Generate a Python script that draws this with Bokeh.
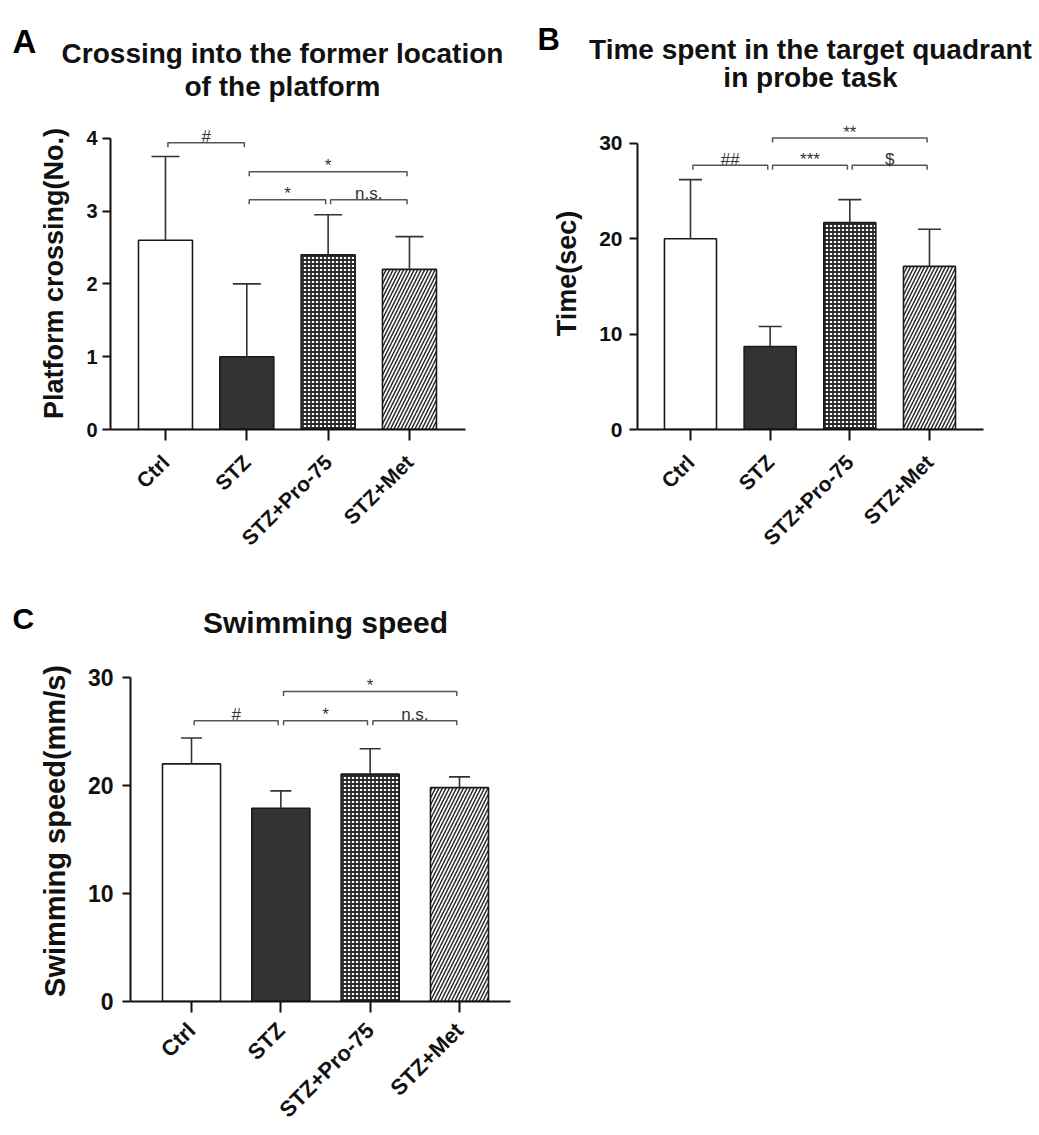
import numpy as np
from bokeh.plotting import figure
from bokeh.models import ColumnDataSource, Range1d, FixedTicker, Whisker, TeeHead, Label
from bokeh.layouts import column, row
from bokeh.embed import file_html
from bokeh.resources import INLINE
from bokeh.core.properties import value

# ---------------- data ----------------
categories = ["Ctrl", "STZ", "STZ+Pro-75", "STZ+Met"]

crossing_mean = [2.6, 1.0, 2.4, 2.2]
crossing_sd = [1.15, 1.0, 0.55, 0.45]

time_mean = [20.0, 8.7, 21.7, 17.1]
time_sd = [6.2, 2.1, 2.4, 3.9]

speed_mean = [22.0, 17.9, 21.05, 19.8]
speed_sd = [2.4, 1.6, 2.35, 1.0]

# significance brackets: (group i, group j, label, height)
brackets_A = [(0, 1, "#", 3.94), (1, 2, "*", 3.155), (2, 3, "n.s.", 3.155), (1, 3, "*", 3.54)]
brackets_B = [(0, 1, "##", 27.7), (1, 2, "***", 27.7), (2, 3, "$", 27.7), (1, 3, "**", 30.55)]
brackets_C = [(0, 1, "#", 26.0), (1, 2, "*", 26.0), (2, 3, "n.s.", 26.0), (1, 3, "*", 28.7)]

titles_A = ["Crossing into the former location", "of the platform"]
titles_B = ["Time spent in the target quadrant", "in probe task"]
titles_C = ["Swimming speed"]
letters = ["A", "B", "C"]

ylabels = ["Platform crossing(No.)", "Time(sec)", "Swimming speed(mm/s)"]

# ---------------- styles ----------------
FONT = "Liberation Sans"
fills = ["white", "#333333", "white", "white"]
hatches = ["blank", "blank", "cross", "right_diagonal_line"]
hatch_scales = [4, 4, 4, 7]
hatch_weights = [1.0, 1.0, 1.8, 1.5]


def title_strip(width, height, lines, cx, bases, size, letter, lxy, lsize):
    """A figure without axes whose frame is the whole canvas; y measured from the top."""
    t = figure(width=width, height=height, output_backend="svg", toolbar_location=None,
               title=None, x_range=Range1d(0, width), y_range=Range1d(height, 0),
               x_axis_location=None, y_axis_location=None, min_border=0)
    t.outline_line_color = None
    t.grid.visible = False
    for k, line in enumerate(lines):
        t.add_layout(Label(x=cx, y=bases[k], text=line, text_align="center",
                           text_baseline="alphabetic", text_font=FONT, text_font_style="bold",
                           text_font_size=f"{size}px", text_color="#111111"))
    t.add_layout(Label(x=lxy[0], y=lxy[1], text=letter, text_align="left",
                       text_baseline="alphabetic", text_font=FONT, text_font_style="bold",
                       text_font_size=f"{lsize}px", text_color="#000000"))
    return t


def make_panel(width, height, fl, fr, ft, fb, xstart, xend, ymax, ytop_bound, yticks,
               means, sds, brackets, ylabel, ylab_size, tick_size, tick_standoff,
               cat_size, cat_standoff, bar_w, cap_w):
    p = figure(width=width, height=height, output_backend="svg", toolbar_location=None,
               title=None, x_range=Range1d(xstart, xend), y_range=Range1d(0, ymax),
               min_border_left=fl, min_border_right=width - fr,
               min_border_top=ft, min_border_bottom=height - fb)
    p.outline_line_color = None
    p.grid.visible = False
    p.background_fill_color = "white"
    p.border_fill_color = "white"

    x = list(range(len(categories)))
    src = ColumnDataSource(dict(
        x=x, top=means, upper=[m + s for m, s in zip(means, sds)],
        fill=fills, hatch=hatches, hs=hatch_scales, hw=hatch_weights))
    p.vbar(x="x", top="top", width=bar_w, bottom=0, source=src,
           fill_color="fill", line_color="#1a1a1a", line_width=1.6,
           hatch_pattern="hatch", hatch_scale="hs", hatch_weight="hw", hatch_color="#2a2a2a")
    p.add_layout(Whisker(source=src, base="x", lower="top", upper="upper", dimension="height",
                         line_color="#333333", line_width=1.6, level="overlay",
                         upper_head=TeeHead(size=cap_w, line_color="#333333", line_width=1.6),
                         lower_head=None))

    # significance brackets
    ppu = (fb - ft) / ymax
    d = 4.5 / ppu
    xs, ys, tx, ty, tt = [], [], [], [], []
    for i, j, lab, lev in brackets:
        x1, x2 = i + 0.03, j - 0.03
        xs.append([x1, x1, x2, x2])
        ys.append([lev - d, lev, lev, lev - d])
        tx.append((i + j) / 2)
        ty.append(lev)
        tt.append(lab)
    p.multi_line(xs=xs, ys=ys, line_color="#555555", line_width=1.5)
    p.text(x=tx, y=ty, text=tt, text_align="center", text_baseline="alphabetic", y_offset=-6,
           text_font=value(FONT), text_font_size="17px", text_color="#333333")

    # axes
    yax = p.yaxis[0]
    yax.bounds = (0, ytop_bound)
    yax.ticker = FixedTicker(ticks=yticks)
    yax.minor_tick_line_color = None
    yax.major_tick_out = 8
    yax.major_tick_in = 0
    yax.major_tick_line_width = 2
    yax.major_tick_line_color = "#111111"
    yax.axis_line_width = 2
    yax.axis_line_color = "#111111"
    yax.major_label_text_font = FONT
    yax.major_label_text_font_style = "bold"
    yax.major_label_text_font_size = f"{tick_size}px"
    yax.major_label_text_color = "#111111"
    yax.major_label_standoff = tick_standoff
    yax.axis_label = ylabel
    yax.axis_label_text_font = FONT
    yax.axis_label_text_font_style = "bold"
    yax.axis_label_text_font_size = f"{ylab_size}px"
    yax.axis_label_text_color = "#111111"
    yax.axis_label_standoff = 14

    xax = p.xaxis[0]
    xax.ticker = FixedTicker(ticks=x)
    xax.major_label_overrides = {i: c for i, c in enumerate(categories)}
    xax.major_label_orientation = np.pi / 4
    xax.minor_tick_line_color = None
    xax.major_tick_out = 11
    xax.major_tick_in = 0
    xax.major_tick_line_width = 2
    xax.major_tick_line_color = "#111111"
    xax.axis_line_width = 2
    xax.axis_line_color = "#111111"
    xax.major_label_text_font = FONT
    xax.major_label_text_font_style = "bold"
    xax.major_label_text_font_size = f"{cat_size}px"
    xax.major_label_text_color = "#111111"
    xax.major_label_standoff = cat_standoff
    return p


# title strips
tA = title_strip(530, 105, titles_A, 282, [53, 86], 28, letters[0], (12, 41), 33)
tB = title_strip(509, 105, titles_B, 280, [49, 77], 28, letters[1], (7, 39), 31)
tC = title_strip(530, 85, titles_C, 325, [62], 30, letters[2], (12, 58), 30)

# plots (A and B share a row -> identical frame top/bottom)
pA = make_panel(530, 455, 110, 465, 12, 327, -0.676, 3.689, 315 / 73.5, 4, [0, 1, 2, 3, 4],
                crossing_mean, crossing_sd, brackets_A, ylabels[0], 27, 20, 5, 21, 18, 0.664, 28)
pB = make_panel(509, 455, 107, 453, 12, 327, -0.665, 3.678, 315 / 9.63, 30, [0, 10, 20, 30],
                time_mean, time_sd, brackets_B, ylabels[1], 27, 21, 7, 21, 18, 0.653, 23)
pC = make_panel(530, 490, 130, 510, 15, 356, -0.683, 3.571, 341 / 10.8, 30, [0, 10, 20, 30],
                speed_mean, speed_sd, brackets_C, ylabels[2], 29, 23, 9, 22, 14, 0.65, 21)

layout = column(row(tA, tB, spacing=0), row(pA, pB, spacing=0),
                row(tC, spacing=0), row(pC, spacing=0), spacing=0)
open("out.html", "w").write(file_html(layout, INLINE))
